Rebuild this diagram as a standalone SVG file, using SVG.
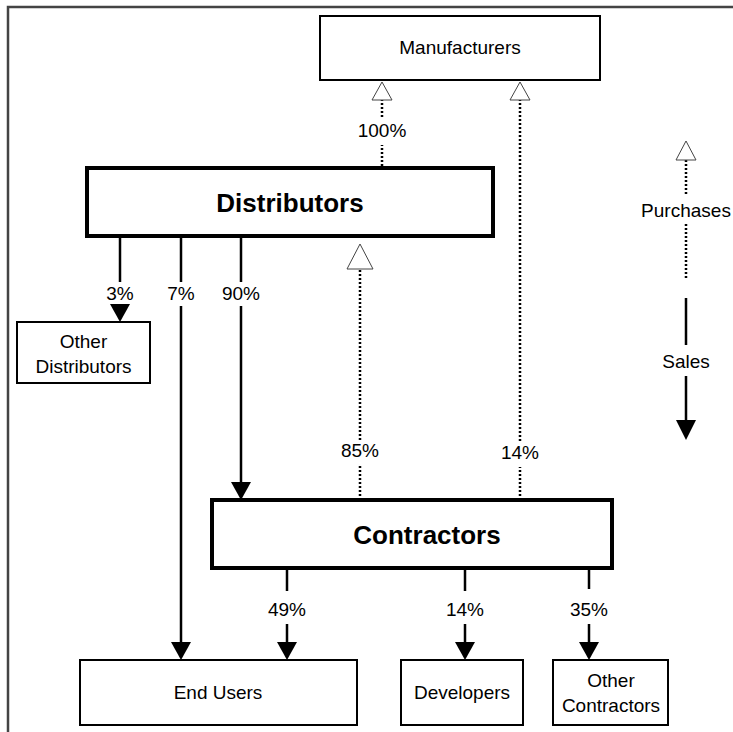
<svg xmlns="http://www.w3.org/2000/svg" width="733" height="732" viewBox="0 0 733 732">
<style>
.box{fill:#fff;stroke:#000;stroke-width:2}
.big{fill:#fff;stroke:#000;stroke-width:4}
.t{font-family:"Liberation Sans",Arial,sans-serif;font-size:19px;fill:#000;text-anchor:middle}
.tb{font-family:"Liberation Sans",Arial,sans-serif;font-size:26px;font-weight:bold;fill:#000;text-anchor:middle}
.sale{stroke:#000;stroke-width:2.5;fill:none}
.pur{stroke:#000;stroke-width:2.5;stroke-dasharray:2 2;fill:none}
.ah{fill:#000}
.oh{fill:#fff;stroke:#444;stroke-width:1}
</style>
<rect x="0" y="0" width="733" height="732" fill="#fff"/>
<path d="M8 732 V7 H733" fill="none" stroke="#444" stroke-width="2.5"/>

<g id="manufacturers"><rect class="box" x="320" y="16" width="280" height="64"/><text class="t" x="460" y="54">Manufacturers</text></g>
<g id="distributors"><rect class="big" x="87" y="168" width="406" height="68"/><text class="tb" x="290" y="212">Distributors</text></g>
<g id="other-distributors"><rect class="box" x="17" y="322" width="133" height="61"/><text class="t" x="83.5" y="348">Other</text><text class="t" x="83.5" y="373">Distributors</text></g>
<g id="contractors"><rect class="big" x="212" y="500" width="400" height="68"/><text class="tb" x="427" y="544">Contractors</text></g>
<g id="end-users"><rect class="box" x="80" y="660" width="277" height="65"/><text class="t" x="218" y="699">End Users</text></g>
<g id="developers"><rect class="box" x="401" y="660" width="122" height="65"/><text class="t" x="462" y="699">Developers</text></g>
<g id="other-contractors"><rect class="box" x="553" y="660" width="115" height="65"/><text class="t" x="611" y="687">Other</text><text class="t" x="611" y="712">Contractors</text></g>

<g id="connectors">
  <!-- sales from distributors -->
  <path class="sale" d="M120 236 V282"/>
  <path class="ah" d="M110 304 H130 L120 322 Z"/>
  <text class="t" x="120" y="300">3%</text>

  <path class="sale" d="M181 236 V282 M181 306 V645"/>
  <path class="ah" d="M171 642 H191 L181 660 Z"/>
  <text class="t" x="181" y="300">7%</text>

  <path class="sale" d="M241 236 V282 M241 306 V485"/>
  <path class="ah" d="M231 482 H251 L241 500 Z"/>
  <text class="t" x="241" y="300">90%</text>

  <!-- sales from contractors -->
  <path class="sale" d="M287 568 V591 M287 624 V645"/>
  <path class="ah" d="M277 642 H297 L287 660 Z"/>
  <text class="t" x="287" y="616">49%</text>

  <path class="sale" d="M465 568 V591 M465 624 V645"/>
  <path class="ah" d="M455 642 H475 L465 660 Z"/>
  <text class="t" x="465" y="616">14%</text>

  <path class="sale" d="M589 568 V589 M589 624 V645"/>
  <path class="ah" d="M579 642 H599 L589 660 Z"/>
  <text class="t" x="589" y="616">35%</text>

  <!-- purchases -->
  <path class="pur" d="M382 166 V145 M382 117 V100"/>
  <path class="oh" d="M372 100 H392 L382 82 Z"/>
  <text class="t" x="382" y="137">100%</text>

  <path class="pur" d="M360 500 V466 M360 440 V270"/>
  <path class="oh" d="M347 269 H373 L360 244 Z"/>
  <text class="t" x="360" y="457">85%</text>

  <path class="pur" d="M520 500 V467 M520 441 V100"/>
  <path class="oh" d="M510 100 H530 L520 82 Z"/>
  <text class="t" x="520" y="459">14%</text>
</g>

<g id="legend">
  <path class="pur" d="M686 160 V196 M686 224 V280"/>
  <path class="oh" d="M676 160 H696 L686 141 Z"/>
  <text class="t" x="686" y="217">Purchases</text>
  <path class="sale" d="M686 298 V345 M686 376 V423"/>
  <path class="ah" d="M676 420 H696 L686 440 Z"/>
  <text class="t" x="686" y="368">Sales</text>
</g>
</svg>
